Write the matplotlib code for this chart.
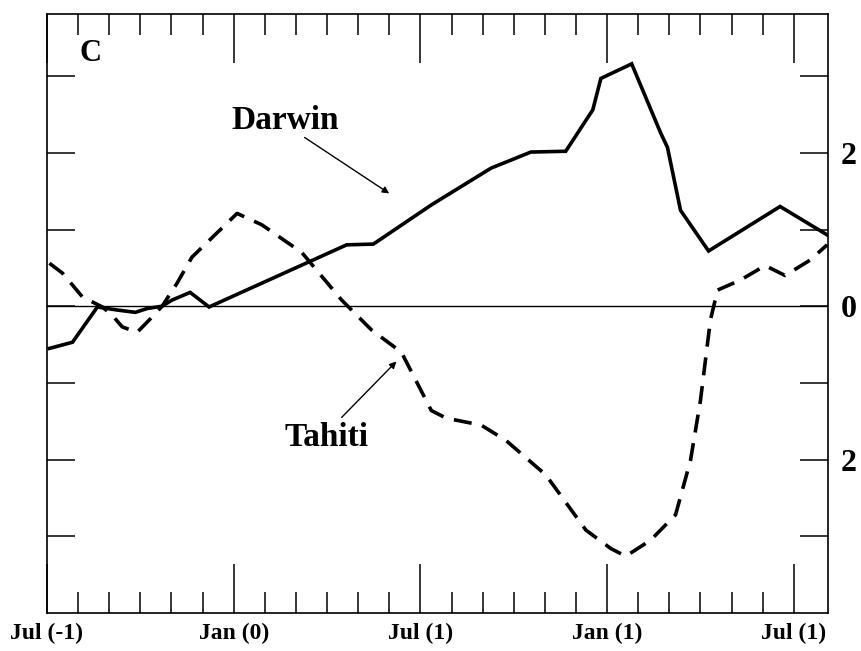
import matplotlib.pyplot as plt
from matplotlib.ticker import FixedLocator

# months since Jul(-1) and pressure anomaly
darwin_month = [0.08, 0.82, 1.62, 2.26, 2.84, 3.22, 3.70, 4.02, 4.60, 5.21, 9.63, 10.49,
                12.35, 14.27, 15.55, 16.67, 17.54, 17.80, 18.79, 19.72, 19.94, 20.36,
                21.26, 23.56, 25.07]
darwin_value = [-0.55, -0.47, -0.01, -0.05, -0.08, -0.03, 0.0, 0.08, 0.18, -0.01, 0.80, 0.81,
                1.32, 1.80, 2.01, 2.02, 2.56, 2.97, 3.16, 2.26, 2.07, 1.25,
                0.72, 1.30, 0.93]

tahiti_month = [0.08, 0.50, 1.14, 1.78, 2.10, 2.42, 2.90, 3.38, 3.70, 4.18, 4.66, 6.11,
                6.91, 8.19, 9.47, 10.43, 11.39, 12.35, 12.83, 13.95, 14.75, 16.03,
                17.32, 18.12, 18.60, 19.40, 20.20, 20.68, 21.00, 21.32, 21.55, 22.28,
                23.08, 23.72, 24.52, 25.07]
tahiti_value = [0.56, 0.43, 0.12, -0.01, -0.12, -0.27, -0.34, -0.14, 0.0, 0.30, 0.64, 1.21,
                1.06, 0.70, 0.08, -0.31, -0.60, -1.36, -1.46, -1.55, -1.75, -2.20,
                -2.92, -3.16, -3.26, -3.05, -2.72, -2.01, -1.23, -0.18, 0.21, 0.34,
                0.53, 0.40, 0.60, 0.80]

x_ticks = [0, 6, 12, 18, 24]
x_labels = ["Jul (-1)", "Jan (0)", "Jul (1)", "Jan (1)", "Jul (1)"]
month_ticks = list(range(1, 25))
y_ticks = [-3, -2, -1, 0, 1, 2, 3]
y_labels = ["", "2", "", "0", "", "2", ""]

plt.rcParams['font.family'] = ['Liberation Serif', 'DejaVu Serif']
plt.rcParams['font.weight'] = 'bold'

fig = plt.figure(figsize=(8.62, 6.51), dpi=100)
ax = fig.add_axes([0.0545, 0.0584, 0.9061, 0.9201])

ax.axhline(0, color='black', lw=1.0)
ax.plot(darwin_month, darwin_value, color='black', lw=2.6, solid_joinstyle='miter')
ax.plot(tahiti_month, tahiti_value, color='black', lw=2.6, linestyle=(0, (5, 3)))

ax.set_xlim(0, 25.1)
ax.set_ylim(-4.0, 3.81)

ax.set_xticks(x_ticks)
ax.set_xticklabels(x_labels)
ax.xaxis.set_minor_locator(FixedLocator(month_ticks))
ax.set_yticks(y_ticks)
ax.set_yticklabels(y_labels)

ax.tick_params(axis='x', which='major', direction='in', length=35, width=1.1,
               top=True, bottom=True, labelsize=17, pad=7)
ax.tick_params(axis='x', which='minor', direction='in', length=15, width=1.1,
               top=True, bottom=True)
ax.tick_params(axis='y', direction='in', length=20, width=1.1, left=True, right=True,
               labelleft=False, labelright=True, labelsize=23, pad=9)
for lab in ax.get_xticklabels() + ax.get_yticklabels():
    lab.set_fontweight('bold')

for sp in ax.spines.values():
    sp.set_linewidth(1.2)

ax.text(1.4, 3.3, "C", fontsize=22, fontweight='bold', ha='center', va='center')
ax.text(7.67, 2.42, "Darwin", fontsize=24, fontweight='bold', ha='center', va='center')
ax.text(8.99, -1.71, "Tahiti", fontsize=24, fontweight='bold', ha='center', va='center')

ax.annotate('', xy=(11.0, 1.47), xytext=(8.28, 2.2),
            arrowprops=dict(arrowstyle='-|>', color='black', lw=1.0,
                            mutation_scale=10, shrinkA=0, shrinkB=0))
ax.annotate('', xy=(11.23, -0.72), xytext=(9.47, -1.45),
            arrowprops=dict(arrowstyle='-|>', color='black', lw=1.0,
                            mutation_scale=10, shrinkA=0, shrinkB=0))

plt.savefig("out.png", dpi=100)
